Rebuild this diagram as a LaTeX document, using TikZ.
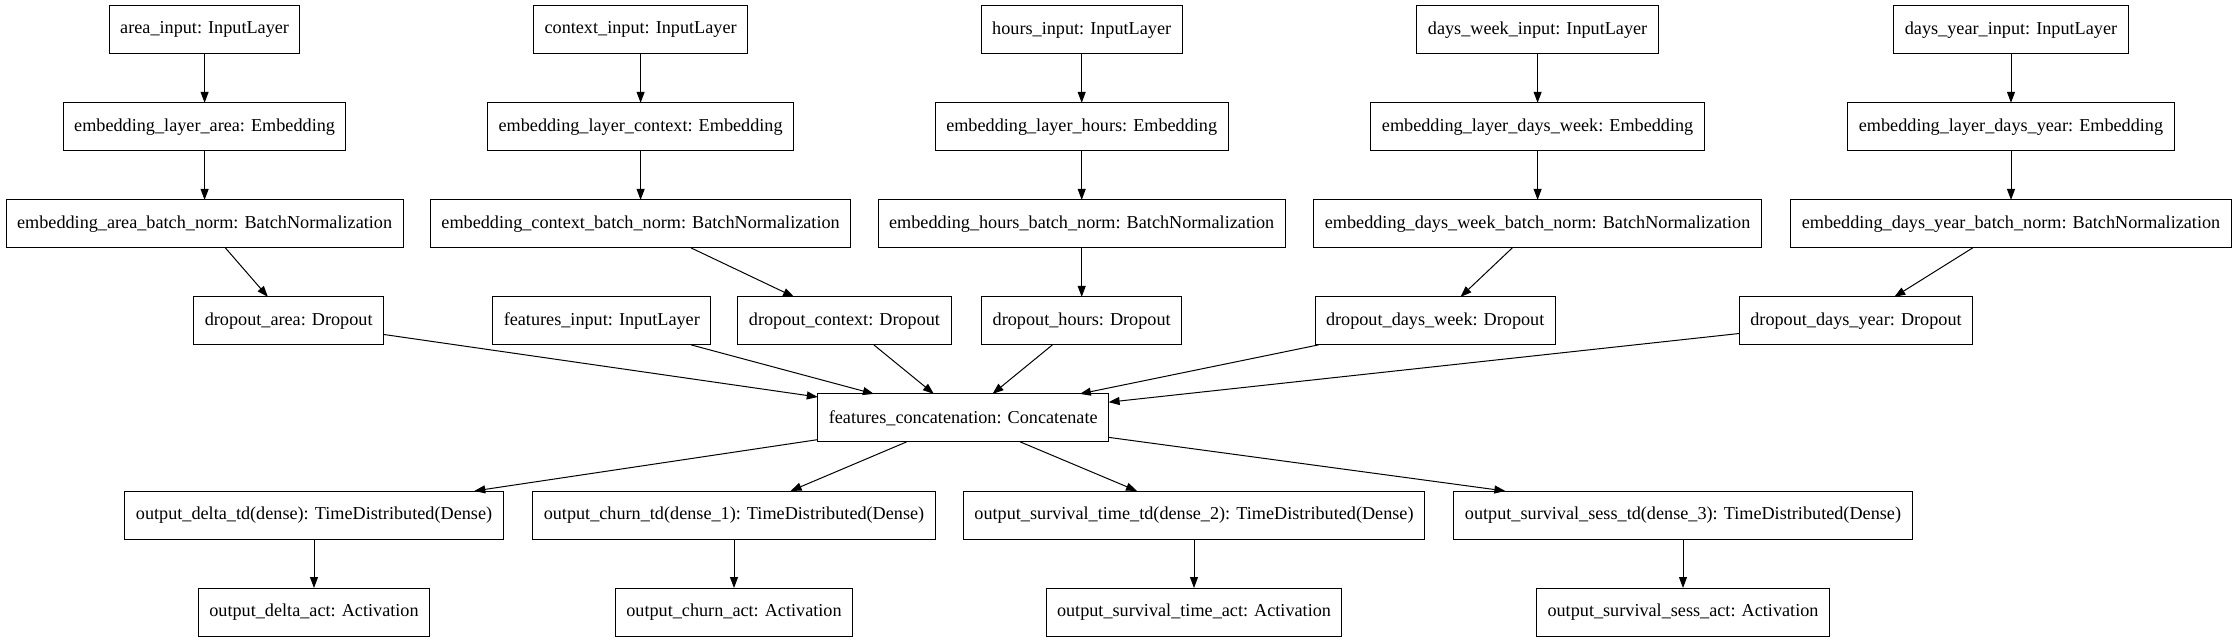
\documentclass[tikz,border=0pt]{standalone}
\usepackage{fontspec}
\setmainfont{Liberation Serif}
\usetikzlibrary{arrows.meta,positioning}

\begin{document}
\begin{tikzpicture}[x=1pt,y=-1pt,every node/.style={block},
  block/.style={minimum height=48pt,inner xsep=11pt,outer sep=0pt,draw,line width=1pt,rectangle,
    font=\fontsize{18.2}{20}\selectfont},
  conn/.style={line width=1pt,-{Triangle[length=11pt,width=8pt]}}]

        \useasboundingbox (0,0) rectangle (2239,644);

        % inputs
        \node (areaIn) at (204.6,29.8) {area\_input: InputLayer};
        \node (ctxIn) at (640.6,29.8) {context\_input: InputLayer};
        \node (hoursIn) at (1081.7,29.8) {hours\_input: InputLayer};
        \node (weekIn) at (1537.6,29.8) {days\_week\_input: InputLayer};
        \node (yearIn) at (2011,29.8) {days\_year\_input: InputLayer};

        % embeddings
        \node (areaEmb) at (204.6,126.8) {embedding\_layer\_area: Embedding};
        \node (ctxEmb) at (640.6,126.8) {embedding\_layer\_context: Embedding};
        \node (hoursEmb) at (1081.7,126.8) {embedding\_layer\_hours: Embedding};
        \node (weekEmb) at (1537.6,126.8) {embedding\_layer\_days\_week: Embedding};
        \node (yearEmb) at (2011,126.8) {embedding\_layer\_days\_year: Embedding};

        % batch norms
        \node (areaBn) at (204.6,223.9) {embedding\_area\_batch\_norm: BatchNormalization};
        \node (ctxBn) at (640.6,223.9) {embedding\_context\_batch\_norm: BatchNormalization};
        \node (hoursBn) at (1081.7,223.9) {embedding\_hours\_batch\_norm: BatchNormalization};
        \node (weekBn) at (1537.6,223.9) {embedding\_days\_week\_batch\_norm: BatchNormalization};
        \node (yearBn) at (2011,223.9) {embedding\_days\_year\_batch\_norm: BatchNormalization};

        % dropouts
        \node (areaDrop) at (288.7,320.9) {dropout\_area: Dropout};
        \node (featIn) at (601.8,320.9) {features\_input: InputLayer};
        \node (ctxDrop) at (844.5,320.9) {dropout\_context: Dropout};
        \node (hoursDrop) at (1081.7,320.9) {dropout\_hours: Dropout};
        \node (weekDrop) at (1435.2,320.9) {dropout\_days\_week: Dropout};
        \node (yearDrop) at (1856,320.9) {dropout\_days\_year: Dropout};

        \node (concat) at (963.2,417.9) {features\_concatenation: Concatenate};

        % outputs
        \node (deltaTd) at (314,515) {output\_delta\_td(dense): TimeDistributed(Dense)};
        \node (churnTd) at (734,515) {output\_churn\_td(dense\_1): TimeDistributed(Dense)};
        \node (timeTd) at (1194,515) {output\_survival\_time\_td(dense\_2): TimeDistributed(Dense)};
        \node (sessTd) at (1683,515) {output\_survival\_sess\_td(dense\_3): TimeDistributed(Dense)};

        \node (deltaAct) at (314,612) {output\_delta\_act: Activation};
        \node (churnAct) at (734,612) {output\_churn\_act: Activation};
        \node (timeAct) at (1194,612) {output\_survival\_time\_act: Activation};
        \node (sessAct) at (1683,612) {output\_survival\_sess\_act: Activation};

        \draw[conn] (areaIn) -- (areaEmb);
        \draw[conn] (ctxIn) -- (ctxEmb);
        \draw[conn] (hoursIn) -- (hoursEmb);
        \draw[conn] (weekIn) -- (weekEmb);
        \draw[conn] (yearIn) -- (yearEmb);

        \draw[conn] (areaEmb) -- (areaBn);
        \draw[conn] (ctxEmb) -- (ctxBn);
        \draw[conn] (hoursEmb) -- (hoursBn);
        \draw[conn] (weekEmb) -- (weekBn);
        \draw[conn] (yearEmb) -- (yearBn);

        \draw[conn] (areaBn) -- (areaDrop);
        \draw[conn] (ctxBn) -- (ctxDrop);
        \draw[conn] (hoursBn) -- (hoursDrop);
        \draw[conn] (weekBn) -- (weekDrop);
        \draw[conn] (yearBn) -- (yearDrop);

        \draw[conn] (areaDrop) -- (concat);
        \draw[conn] (featIn) -- (concat);
        \draw[conn] (ctxDrop) -- (concat);
        \draw[conn] (hoursDrop) -- (concat);
        \draw[conn] (weekDrop) -- (concat);
        \draw[conn] (yearDrop) -- (concat);

        \draw[conn] (concat) -- (deltaTd);
        \draw[conn] (concat) -- (churnTd);
        \draw[conn] (concat) -- (timeTd);
        \draw[conn] (concat) -- (sessTd);

        \draw[conn] (deltaTd) -- (deltaAct);
        \draw[conn] (churnTd) -- (churnAct);
        \draw[conn] (timeTd) -- (timeAct);
        \draw[conn] (sessTd) -- (sessAct);
      \end{tikzpicture}
\end{document}
